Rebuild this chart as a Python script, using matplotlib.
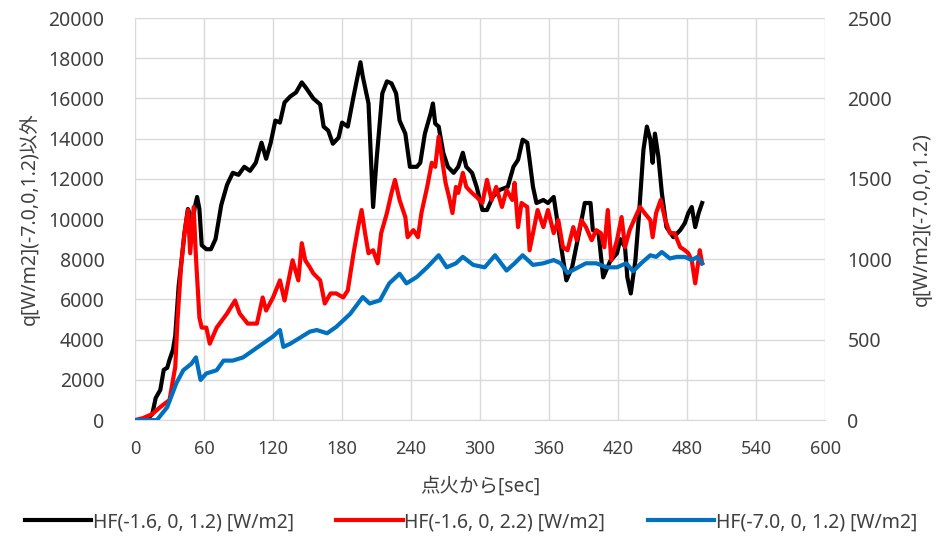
import numpy as np
import matplotlib
matplotlib.use("Agg")
from matplotlib import pyplot as plt

plt.rcParams['font.family'] = ['Noto Sans', 'Noto Sans CJK JP', 'DejaVu Sans']

# HF(-1.6, 0, 1.2) - left axis
t_black = [0, 10, 15, 18, 22, 25, 28, 30, 33, 35, 38, 40, 43, 46, 48, 50, 52, 54, 56, 58,
           62, 66, 70, 75, 80, 85, 90, 95, 100, 105, 110, 114, 118, 122, 126, 130, 135, 140,
           145, 149, 155, 161, 164, 168, 172, 177, 180, 185, 190, 196, 198, 203, 207, 210,
           215, 219, 223, 227, 230, 235, 239, 245, 248, 252, 257, 259, 261, 264, 268, 272,
           277, 281, 285, 288, 293, 297, 302, 306, 311, 317, 324, 329, 333, 337, 341, 343,
           346, 349, 355, 359, 364, 367, 370, 375, 380, 387, 391, 396, 398, 403, 407, 413,
           419, 422, 426, 428, 431, 435, 438, 442, 445, 448, 450, 452, 455, 458, 462, 468,
           474, 478, 481, 484, 487, 490, 493]
q_black = [0, 0, 300, 1100, 1500, 2500, 2600, 3000, 3500, 4200, 6700, 7700, 9300, 10500,
           10200, 9800, 10600, 11100, 10500, 8700, 8500, 8500, 9000, 10700, 11700, 12300,
           12200, 12600, 12400, 12800, 13800, 13000, 13800, 14900, 14800, 15800, 16100,
           16300, 16800, 16500, 16000, 15700, 14600, 14400, 13750, 14050, 14800, 14600,
           16100, 17800, 17100, 15750, 10600, 12950, 16250, 16850, 16750, 16250, 14900,
           14250, 12600, 12600, 12800, 14250, 15250, 15750, 14750, 14600, 13300, 12600,
           12300, 12600, 13300, 12600, 12300, 11600, 10450, 10450, 11100, 11450, 11600,
           12600, 12950, 13950, 13800, 12950, 11600, 10800, 10950, 10800, 11100, 9950, 8800,
           6950, 7600, 9600, 10800, 10800, 9450, 9300, 7100, 7900, 8300, 9000, 8600, 7100,
           6300, 7950, 10100, 13450, 14600, 13950, 12800, 14250, 13100, 11300, 9600, 9100,
           9450, 9800, 10300, 10600, 9600, 10300, 10800]

# HF(-1.6, 0, 2.2) - left axis
t_red = [0, 7, 15, 22, 30, 35, 37, 40, 43, 46, 48, 51, 53, 56, 58, 62, 65, 71, 80, 87, 91,
         98, 106, 111, 114, 120, 126, 130, 137, 142, 145, 148, 152, 155, 161, 165, 170, 175,
         181, 185, 190, 194, 197, 200, 203, 207, 211, 214, 219, 223, 226, 230, 235, 237, 242,
         246, 249, 254, 258, 261, 264, 267, 270, 273, 276, 279, 281, 285, 288, 293, 297, 302,
         306, 310, 314, 319, 323, 328, 330, 333, 336, 341, 343, 346, 350, 355, 359, 364, 368,
         372, 376, 381, 384, 388, 392, 397, 401, 405, 408, 411, 414, 419, 423, 426, 430, 435,
         439, 443, 448, 450, 453, 457, 461, 465, 469, 474, 478, 481, 484, 487, 489, 491, 493]
q_red = [0, 100, 300, 650, 1000, 2650, 5000, 7600, 9300, 10450, 8300, 10600, 8100, 5100,
         4600, 4600, 3800, 4600, 5300, 5950, 5300, 4800, 4800, 6100, 5450, 6100, 6950, 5950,
         7950, 6950, 8800, 7950, 7600, 7300, 6950, 5800, 6300, 6300, 6100, 6450, 8300, 9600,
         10450, 9300, 8300, 8450, 7800, 9300, 10300, 11300, 11950, 10950, 10100, 9100, 9450,
         9100, 10300, 11600, 12800, 12600, 14100, 12950, 11800, 11100, 10300, 11600, 11300,
         12300, 11600, 11300, 11100, 10800, 11950, 10950, 11600, 10600, 11450, 10950, 11800,
         9600, 10800, 10600, 8450, 9300, 10450, 9600, 10450, 9300, 9950, 8600, 8450, 9600,
         8950, 9950, 9600, 8950, 9450, 9300, 8600, 10450, 7950, 8950, 10100, 8600, 9450,
         10100, 10600, 10300, 9950, 9100, 10300, 10950, 9950, 9300, 9300, 8600, 8450, 8300,
         7950, 6800, 7600, 8450, 7800]

# HF(-7.0, 0, 1.2) - right axis
t_blue = [0, 19, 28, 36, 42, 49, 53, 57, 62, 71, 77, 85, 94, 103, 111, 120, 126, 129, 135,
          143, 152, 158, 167, 175, 187, 198, 204, 213, 221, 230, 236, 245, 254, 264, 271, 279,
          285, 294, 304, 313, 323, 330, 337, 346, 355, 364, 370, 376, 384, 392, 401, 410, 419,
          427, 433, 440, 448, 453, 458, 465, 471, 478, 484, 489, 493]
q_blue = [0, 0, 80, 230, 310, 350, 390, 250, 290, 310, 370, 370, 390, 435, 475, 520, 560,
          455, 475, 510, 550, 560, 540, 580, 660, 765, 725, 745, 850, 910, 850, 890, 950, 1025,
          950, 975, 1015, 965, 950, 1025, 930, 975, 1025, 965, 975, 995, 975, 915, 945, 975,
          975, 950, 950, 975, 925, 975, 1025, 1015, 1045, 1005, 1015, 1015, 995, 1015, 975]

labels = ["HF(-1.6, 0, 1.2) [W/m2]", "HF(-1.6, 0, 2.2) [W/m2]", "HF(-7.0, 0, 1.2) [W/m2]"]
colors = ["#000000", "#ff0000", "#0070c0"]

fig, ax = plt.subplots(figsize=(9.42, 5.47), dpi=100)
fig.subplots_adjust(left=0.1433, right=0.876, top=0.967, bottom=0.232)
ax2 = ax.twinx()

l1, = ax.plot(t_black, q_black, color=colors[0], lw=3.0, label=labels[0])
l2, = ax.plot(t_red, q_red, color=colors[1], lw=3.0, label=labels[1])
l3, = ax2.plot(t_blue, q_blue, color=colors[2], lw=3.0, label=labels[2])

ax.set_xlim(0, 600)
ax.set_ylim(0, 20000)
ax2.set_ylim(0, 2500)
ax.set_xticks(np.arange(0, 601, 60))
ax.set_yticks(np.arange(0, 20001, 2000))
ax2.set_yticks(np.arange(0, 2501, 500))

ax.grid(True, color="#d9d9d9", lw=1)
ax.set_axisbelow(True)
for a in (ax, ax2):
    for s in a.spines.values():
        s.set_visible(False)
    a.tick_params(length=0)
ax.spines['bottom'].set_visible(True)
ax.spines['bottom'].set_color("#d9d9d9")

ax.tick_params(axis='y', labelsize=14, labelcolor="#404040", pad=22)
ax2.tick_params(axis='y', labelsize=14, labelcolor="#404040", pad=16)
ax.tick_params(axis='x', labelsize=13, labelcolor="#404040", pad=14)

ax.set_xlabel("点火から[sec]", fontsize=14, color="#404040", labelpad=14)
ax.set_ylabel("q[W/m2](-7.0,0,1.2)以外", fontsize=14, color="#404040", labelpad=6)
ax2.set_ylabel("q[W/m2](-7.0,0,1.2)", fontsize=14, color="#404040", labelpad=14)

fig.legend(handles=[l1, l2, l3], loc="lower center", ncol=3, frameon=False,
           fontsize=14, handlelength=3.4, columnspacing=2.2, handletextpad=0.1,
           bbox_to_anchor=(0.5, -0.005), labelcolor="#404040")

fig.savefig("out.png", dpi=100)
